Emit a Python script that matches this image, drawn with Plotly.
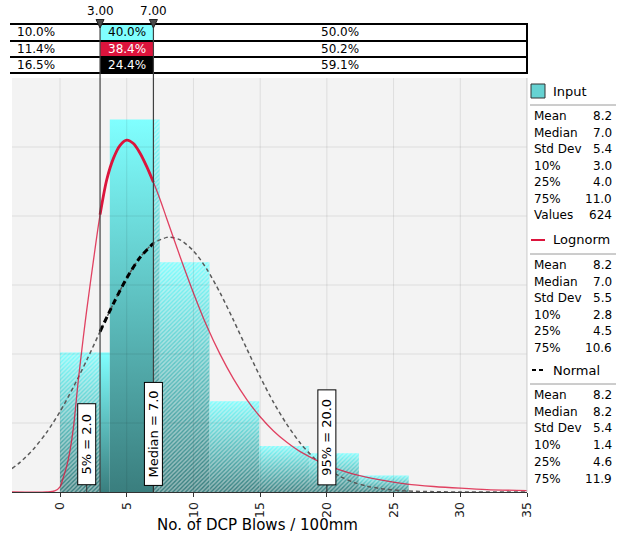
import numpy as np
import plotly.graph_objects as go

# ---------------- data ----------------
bin_edges = [0.0, 3.73, 7.47, 11.2, 14.93, 18.67, 22.4, 26.13]
bin_density = [0.0404, 0.1080, 0.0666, 0.0263, 0.0133, 0.0112, 0.0048]

logn_x = [-3.6, -1.0, -0.4, 0.0, 0.25, 0.5, 0.75, 1.0, 1.37, 1.75, 2.0, 2.5, 3.0, 3.5, 4.0,
          4.5, 5.0, 5.5, 6.0, 6.5, 7.0, 7.5, 8.0, 9.0, 10.0, 11.0, 12.0, 13.0, 14.0, 15.0,
          16.0, 17.0, 18.0, 20.0, 22.0, 24.0, 26.0, 28.0, 30.0, 32.0, 35.0]
logn_y = [0.0, 0.0, 0.0003, 0.0015, 0.0043, 0.0075, 0.0121, 0.0185, 0.0324, 0.0450, 0.0527,
          0.0670, 0.0804, 0.0905, 0.0967, 0.1005, 0.1020, 0.1010, 0.0982, 0.0943, 0.0898,
          0.0848, 0.0792, 0.0682, 0.0577, 0.0481, 0.0399, 0.0328, 0.0268, 0.0218, 0.0177,
          0.0144, 0.0117, 0.0078, 0.0052, 0.0035, 0.0023, 0.0016, 0.0011, 0.0007, 0.0004]

norm_x = [-3.6, -3.0, -2.0, -1.0, 0.0, 1.0, 2.0, 3.0, 4.0, 5.0, 6.0, 7.0, 8.0, 8.2, 9.0, 10.0,
          11.0, 12.0, 13.0, 14.0, 15.0, 16.0, 17.0, 18.0, 19.0, 20.0, 21.0, 22.0, 23.0, 24.0,
          26.0, 28.0, 30.0, 35.0]
norm_y = [0.0068, 0.0086, 0.0124, 0.0173, 0.0233, 0.0304, 0.0382, 0.0465, 0.0546, 0.0620,
          0.0680, 0.0721, 0.0738, 0.0739, 0.0731, 0.0699, 0.0646, 0.0577, 0.0498, 0.0415,
          0.0334, 0.0260, 0.0196, 0.0142, 0.0100, 0.0068, 0.0045, 0.0028, 0.0017, 0.0010,
          0.0003, 0.0001, 0.0, 0.0]

cut_low = 3.0
cut_high = 7.0
cut_labels = ["3.00", "7.00"]

input_pct = ["10.0%", "40.0%", "50.0%"]
logn_pct = ["11.4%", "38.4%", "50.2%"]
norm_pct = ["16.5%", "24.4%", "59.1%"]

marker_vals = [2.0, 7.0, 20.0]
marker_labels = ["5% = 2.0", "Median = 7.0", "95% = 20.0"]

stat_names = ["Mean", "Median", "Std Dev", "10%", "25%", "75%", "Values"]
input_stats = ["8.2", "7.0", "5.4", "3.0", "4.0", "11.0", "624"]
logn_stats = ["8.2", "7.0", "5.5", "2.8", "4.5", "10.6"]
norm_stats = ["8.2", "8.2", "5.4", "1.4", "4.6", "11.9"]

x_ticks = [0, 5, 10, 15, 20, 25, 30, 35]
y_grid = [0.02, 0.04, 0.06, 0.08, 0.10]
x_title = "No. of DCP Blows / 100mm"

# ---------------- layout helpers ----------------
W, H = 625, 538
ML, MR, MT, MB = 12, 98, 78, 46
PW, PH = W - ML - MR, H - MT - MB
XMIN, XMAX = -3.6, 35
FONT = "DejaVu Sans"
CYAN = "#80ffff"
DARK = "#3a7e7e"
RED = "#dc143c"


def X(px):
    return (px - ML) / PW


def Y(py):
    return (H - MB - py) / PH


PX_PER_UNIT = PW / (XMAX - XMIN)

fig = go.Figure()

# histogram bars with vertical gradient, hatched outside the [3,7] band
for i in range(len(bin_density)):
    x0, x1, h = bin_edges[i], bin_edges[i + 1], bin_density[i]
    fig.add_trace(go.Scatter(
        x=[x0, x1, x1, x0, x0], y=[0, 0, h, h, 0], mode="lines",
        line=dict(width=0), fill="toself",
        fillgradient=dict(type="vertical", colorscale=[[0, DARK], [1, CYAN]]),
        hoverinfo="skip", showlegend=False))
    segs = []
    if x0 < cut_low:
        segs.append((x0, min(x1, cut_low)))
    if x1 > cut_high:
        segs.append((max(x0, cut_high), x1))
    for a, b in segs:
        fig.add_trace(go.Scatter(
            x=[a, b, b, a, a], y=[0, 0, h, h, 0], mode="lines",
            line=dict(width=0), fill="toself", fillcolor="rgba(0,0,0,0)",
            fillpattern=dict(shape="/", fgcolor="#f3f3f3", bgcolor="rgba(0,0,0,0)",
                             size=3, solidity=0.5),
            hoverinfo="skip", showlegend=False))

lx, ly = np.array(logn_x), np.array(logn_y)
nx, ny = np.array(norm_x), np.array(norm_y)
lb = (lx >= cut_low) & (lx <= cut_high)
nb = (nx >= cut_low) & (nx <= cut_high)

fig.add_trace(go.Scatter(x=nx, y=ny, mode="lines",
                         line=dict(color="#5a5a5a", width=1.5, dash="4px,3px", shape="spline", smoothing=0.8),
                         hoverinfo="skip", showlegend=False))
fig.add_trace(go.Scatter(x=lx, y=ly, mode="lines",
                         line=dict(color="rgba(220,20,60,0.8)", width=1.3, shape="spline", smoothing=0.8),
                         hoverinfo="skip", showlegend=False))
fig.add_trace(go.Scatter(x=nx[nb], y=ny[nb], mode="lines",
                         line=dict(color="black", width=3, dash="6px,4px", shape="spline", smoothing=0.8),
                         hoverinfo="skip", showlegend=False))
fig.add_trace(go.Scatter(x=lx[lb], y=ly[lb], mode="lines",
                         line=dict(color=RED, width=2.8, shape="spline", smoothing=0.8),
                         hoverinfo="skip", showlegend=False))

shapes = []
annotations = []

# gridlines drawn over the bars
for t in x_ticks:
    shapes.append(dict(type="line", xref="x", yref="paper", x0=t, x1=t, y0=0, y1=1,
                       line=dict(color="rgba(0,0,0,0.09)", width=1), layer="above"))
for g in y_grid:
    shapes.append(dict(type="line", xref="paper", yref="y", x0=0, x1=1, y0=g, y1=g,
                       line=dict(color="rgba(0,0,0,0.09)", width=1), layer="above"))
# plot right edge
shapes.append(dict(type="line", xref="paper", yref="paper", x0=1, x1=1, y0=0, y1=1,
                   line=dict(color="#d0d0d0", width=1)))

# top table
row_tops = [24, 41, 57, 73]
row_fill = [CYAN, RED, "black"]
row_txt = ["black", "white", "white"]
row_vals = [input_pct, logn_pct, norm_pct]
for r in range(3):
    shapes.append(dict(type="rect", xref="x", yref="paper", x0=cut_low, x1=cut_high,
                       y0=Y(row_tops[r + 1]), y1=Y(row_tops[r]), fillcolor=row_fill[r],
                       line=dict(width=0)))
    yc = Y((row_tops[r] + row_tops[r + 1]) / 2)
    vals = row_vals[r]
    annotations.append(dict(xref="paper", yref="paper", x=X(36), y=yc, text=vals[0],
                            xanchor="center", yanchor="middle", showarrow=False,
                            font=dict(family=FONT, size=12, color="black")))
    annotations.append(dict(xref="x", yref="paper", x=(cut_low + cut_high) / 2, y=yc, text=vals[1],
                            xanchor="center", yanchor="middle", showarrow=False,
                            font=dict(family=FONT, size=12, color=row_txt[r])))
    annotations.append(dict(xref="paper", yref="paper", x=X(340), y=yc, text=vals[2],
                            xanchor="center", yanchor="middle", showarrow=False,
                            font=dict(family=FONT, size=12, color="black")))
for yt in row_tops:
    shapes.append(dict(type="line", xref="paper", yref="paper", x0=X(10), x1=X(528),
                       y0=Y(yt), y1=Y(yt), line=dict(color="black", width=2)))
shapes.append(dict(type="line", xref="paper", yref="paper", x0=X(527), x1=X(527),
                   y0=Y(73), y1=Y(24), line=dict(color="black", width=2)))

# cut lines with triangles and labels
half = 4.0 / PX_PER_UNIT
for c, lab in zip([cut_low, cut_high], cut_labels):
    shapes.append(dict(type="line", xref="x", yref="paper", x0=c, x1=c, y0=0, y1=Y(24),
                       line=dict(color="#404040", width=1.2), layer="above"))
    tri = "M {a},{t} L {b},{t} L {c},{p} Z".format(a=c - half, b=c + half, c=c,
                                                   t=Y(19.5), p=Y(28))
    shapes.append(dict(type="path", xref="x", yref="paper", path=tri,
                       fillcolor="#4a4a4a", line=dict(color="#222222", width=1)))
    annotations.append(dict(xref="x", yref="paper", x=c, y=Y(11), xanchor="center",
                            yanchor="middle", text=lab, showarrow=False,
                            font=dict(family=FONT, size=12, color="black")))

# marker label boxes
box_len = [80, 102, 94]
for v, lab, bl in zip(marker_vals, marker_labels, box_len):
    shapes.append(dict(type="line", xref="x", yref="paper", x0=v, x1=v, y0=0, y1=Y(485),
                       line=dict(color="#303030", width=1), layer="above"))
    annotations.append(dict(xref="x", yref="paper", x=v, y=Y(485.5), xanchor="center",
                            yanchor="bottom", text=lab, textangle=-90, showarrow=False,
                            width=bl, height=17, bgcolor="white", bordercolor="black",
                            borderwidth=1, borderpad=0,
                            font=dict(family=FONT, size=13, color="black")))

# x-axis title
annotations.append(dict(xref="paper", yref="paper", x=X(257.5), y=Y(525), text=x_title,
                        xanchor="center", yanchor="middle", showarrow=False,
                        font=dict(family=FONT, size=15, color="black")))

# right legend / statistics panel
LX0, LX1 = 532, 614


def stats_block(title, icon, y_title, y_sep, y_first, step, names, vals):
    annotations.append(dict(xref="paper", yref="paper", x=X(551), y=Y(y_title), xanchor="left",
                            yanchor="middle", text=title, showarrow=False,
                            font=dict(family=FONT, size=13, color="black")))
    if icon == "input":
        shapes.append(dict(type="rect", xref="paper", yref="paper", x0=X(531), x1=X(545),
                           y0=Y(y_title + 7), y1=Y(y_title - 7), fillcolor="#66d2d2",
                           line=dict(color="#333333", width=1)))
    elif icon == "logn":
        shapes.append(dict(type="line", xref="paper", yref="paper", x0=X(531), x1=X(545),
                           y0=Y(y_title), y1=Y(y_title), line=dict(color=RED, width=2)))
    else:
        shapes.append(dict(type="line", xref="paper", yref="paper", x0=X(532), x1=X(545),
                           y0=Y(y_title), y1=Y(y_title),
                           line=dict(color="black", width=2, dash="4px,3px")))
    shapes.append(dict(type="line", xref="paper", yref="paper", x0=X(530), x1=X(616),
                       y0=Y(y_sep), y1=Y(y_sep), line=dict(color="#9a9a9a", width=1)))
    for k, (n, v) in enumerate(zip(names, vals)):
        yy = Y(y_first + k * step)
        annotations.append(dict(xref="paper", yref="paper", x=X(LX0), y=yy, xanchor="left",
                                yanchor="middle", text=n, showarrow=False,
                                font=dict(family=FONT, size=12, color="black")))
        annotations.append(dict(xref="paper", yref="paper", x=X(LX1), y=yy, xanchor="right",
                                yanchor="middle", text=v, showarrow=False,
                                font=dict(family=FONT, size=12, color="black")))


stats_block("Input", "input", 91, 105, 116, 16.5, stat_names, input_stats)
stats_block("Lognorm", "logn", 240, 254, 265, 16.6, stat_names[:6], logn_stats)
stats_block("Normal", "norm", 370, 384, 395, 16.7, stat_names[:6], norm_stats)

fig.update_layout(
    width=W, height=H,
    margin=dict(l=ML, r=MR, t=MT, b=MB, autoexpand=False),
    paper_bgcolor="white", plot_bgcolor="#f3f3f3",
    shapes=shapes, annotations=annotations,
    showlegend=False,
    xaxis=dict(range=[XMIN, XMAX], tickvals=x_ticks, ticktext=[str(t) for t in x_ticks],
               tickangle=-90, ticks="outside", ticklen=4, tickcolor="#333333",
               showline=True, linecolor="#333333", linewidth=1, showgrid=False,
               zeroline=False, tickfont=dict(family=FONT, size=12.5, color="#222222")),
    yaxis=dict(range=[0, 0.12], showticklabels=False, showgrid=False, zeroline=False,
               showline=False, ticks=""),
)

fig.write_html("out.html")
